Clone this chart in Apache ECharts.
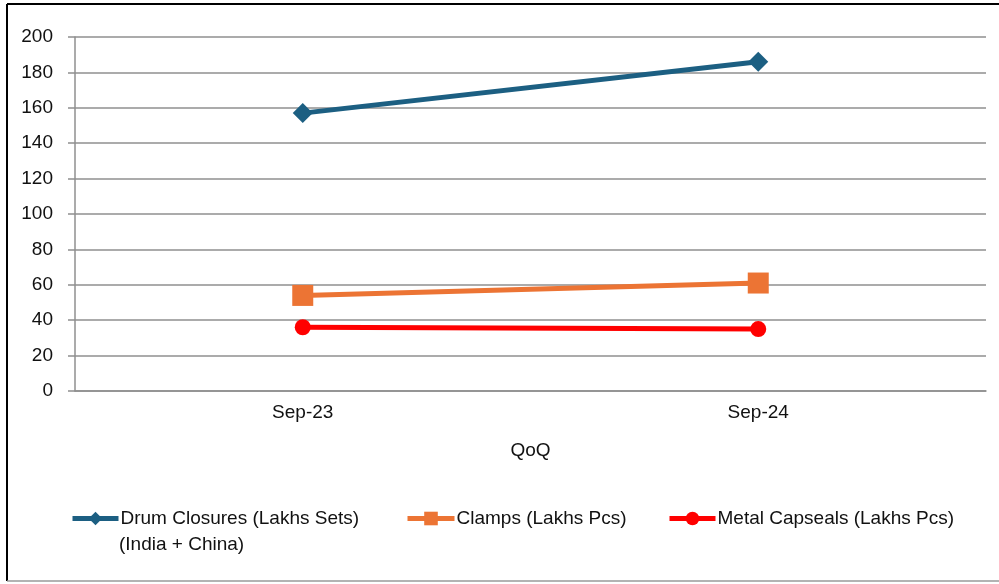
<!DOCTYPE html>
<html><head><meta charset="utf-8">
<script src="https://cdn.jsdelivr.net/npm/echarts@6/dist/echarts.min.js"></script>
<style>html,body{margin:0;padding:0;background:#fff}#c{width:999px;height:584px}</style>
</head><body><div id="c"></div>
<script>
const categories = ['Sep-23', 'Sep-24'];
const groupLabel = ['QoQ'];
const drumName = 'Drum Closures (Lakhs Sets)\n(India + China)';
const clampName = 'Clamps (Lakhs Pcs)';
const capName = 'Metal Capseals (Lakhs Pcs)';
const drumValues = [157, 186];
const clampValues = [54, 61];
const capValues = [36, 35];

const chart = echarts.init(document.getElementById('c'));
const gridColor = '#8f8f8f';
const font = '"Liberation Sans", Arial, sans-serif';
function legendItem(name, left, width) {
  return {
    data: [name], left: left, top: 509, padding: 0, itemWidth: width, itemHeight: 17, itemGap: 0,
    selectedMode: false,
    lineStyle: {width: 5},
    formatter: function (n) { return n.split('\n')[0]; },
    textStyle: {fontFamily: font, fontSize: 19, color: '#111', padding: [0, 0, 0, -3]}
  };
}
chart.setOption({
  animation: false,
  grid: {left: 75, right: 13, top: 37, bottom: 193},
  legend: [legendItem(drumName, 70, 46), legendItem(clampName, 405, 47), legendItem(capName, 667, 46)],
  xAxis: [
    {type: 'category', data: categories, boundaryGap: true,
     axisLine: {lineStyle: {color: gridColor, width: 1.5}},
     axisTick: {alignWithLabel: true, length: 6, lineStyle: {color: gridColor, width: 1.5}},
     axisLabel: {fontFamily: font, fontSize: 19, color: '#111', margin: 12}},
    {type: 'category', data: categories, boundaryGap: true, position: 'bottom',
     axisLine: {show: false},
     axisTick: {length: 6, lineStyle: {color: gridColor, width: 1.5}},
     axisLabel: {show: false}},
    {type: 'category', data: groupLabel, boundaryGap: true, position: 'bottom',
     axisLine: {show: false},
     axisTick: {length: 74, lineStyle: {color: gridColor, width: 1.5}},
     axisLabel: {fontFamily: font, fontSize: 19, color: '#111', margin: 50}}
  ],
  yAxis: {type: 'value', min: 0, max: 200, interval: 20,
    axisLine: {show: true, lineStyle: {color: gridColor, width: 1.5}},
    axisTick: {show: true, length: 7, lineStyle: {color: gridColor, width: 1.5}},
    splitLine: {lineStyle: {color: gridColor, width: 1.5}},
    axisLabel: {fontFamily: font, fontSize: 19, color: '#111', margin: 22}},
  graphic: [
    {type: 'line', shape: {x1: 7, y1: 4, x2: 999, y2: 4}, style: {stroke: '#000', lineWidth: 2}},
    {type: 'line', shape: {x1: 7, y1: 4, x2: 7, y2: 581}, style: {stroke: '#000', lineWidth: 2}},
    {type: 'line', shape: {x1: 7, y1: 581, x2: 999, y2: 581}, style: {stroke: '#9a9a9a', lineWidth: 1.5}},
    {type: 'text', left: 119, top: 535,
     style: {text: drumName.split('\n')[1], font: '19px "Liberation Sans", Arial, sans-serif', fill: '#111'}}
  ],
  series: [
    {name: drumName, type: 'line', data: drumValues, symbol: 'diamond', symbolSize: 20,
     itemStyle: {color: '#1c5f82'}, lineStyle: {width: 5, color: '#1c5f82'}},
    {name: clampName, type: 'line', data: clampValues, symbol: 'rect', symbolSize: 21,
     itemStyle: {color: '#ec7434'}, lineStyle: {width: 5, color: '#ec7434'}},
    {name: capName, type: 'line', data: capValues, symbol: 'circle', symbolSize: 16,
     itemStyle: {color: '#ff0000'}, lineStyle: {width: 5, color: '#ff0000'}}
  ]
});
</script></body></html>
